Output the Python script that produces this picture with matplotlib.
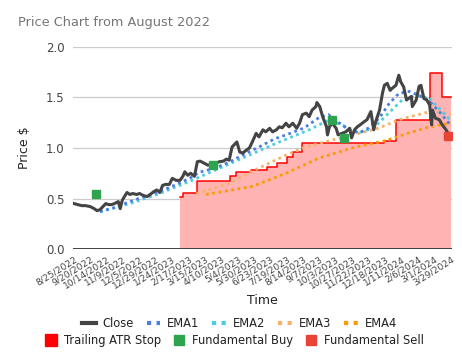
import matplotlib
matplotlib.use("Agg")
import matplotlib.pyplot as plt
from matplotlib.lines import Line2D
import numpy as np

# ---- data (x = trading-day index from 8/25/2022) ----
tick_labels = ["8/25/2022", "9/20/2022", "10/14/2022", "11/9/2022", "12/5/2022",
               "12/29/2022", "1/24/2023", "2/17/2023", "3/15/2023", "4/10/2023",
               "5/4/2023", "5/30/2023", "6/23/2023", "7/19/2023", "8/14/2023",
               "9/7/2023", "10/3/2023", "10/27/2023", "11/22/2023", "12/18/2023",
               "1/11/2024", "2/6/2024", "3/1/2024", "3/29/2024"]
tick_step = 17

close_day = [0, 4, 8, 12, 17, 21, 24, 27, 30, 33, 36, 39, 42, 46, 48, 50, 53, 55, 58, 61,
             65, 68, 72, 76, 79, 83, 86, 89, 92, 95, 99, 102, 106, 110, 113, 115, 118, 121, 125, 128,
             131, 134, 139, 143, 147, 151, 155, 158, 161, 164, 169, 172, 175, 179, 182, 185, 189, 192, 196, 199,
             203, 206, 210, 213, 216, 220, 223, 227, 231, 234, 237, 241, 244, 247, 251, 252, 255, 258, 262, 263,
             265, 268, 272, 274, 278, 282, 286, 288, 291, 294, 297, 301, 304, 308, 311, 313, 317, 320, 322, 325,
             328, 330, 334, 337, 339, 342, 345, 350, 351, 355, 358, 360, 363, 366, 369, 371, 372, 375, 379, 382,
             386, 389, 391]
close_val = [0.45, 0.44, 0.43, 0.43, 0.42, 0.40, 0.38, 0.39, 0.42, 0.45, 0.44, 0.44, 0.45, 0.47, 0.40, 0.48, 0.53, 0.56, 0.54, 0.55,
             0.54, 0.55, 0.53, 0.52, 0.54, 0.57, 0.585, 0.56, 0.63, 0.64, 0.64, 0.70, 0.68, 0.68, 0.72, 0.765, 0.73, 0.75, 0.72, 0.865,
             0.87, 0.855, 0.83, 0.84, 0.85, 0.865, 0.87, 0.89, 0.88, 1.01, 1.06, 0.96, 0.95, 0.98, 1.00, 1.06, 1.145, 1.11, 1.18, 1.16,
             1.195, 1.16, 1.18, 1.21, 1.20, 1.245, 1.21, 1.245, 1.195, 1.245, 1.33, 1.345, 1.31, 1.375, 1.41, 1.45, 1.41, 1.31, 1.21, 1.13,
             1.21, 1.245, 1.195, 1.13, 1.145, 1.16, 1.195, 1.10, 1.18, 1.21, 1.23, 1.26, 1.28, 1.36, 1.18, 1.26, 1.375, 1.54, 1.62, 1.64,
             1.57, 1.59, 1.62, 1.72, 1.655, 1.605, 1.475, 1.51, 1.41, 1.475, 1.61, 1.62, 1.49, 1.475, 1.425, 1.23, 1.375, 1.295, 1.28, 1.23,
             1.18, 1.13, 1.12]

ema1_day = [27, 42, 58, 73, 89, 104, 120, 130, 146, 161, 177, 192, 208, 223, 239, 254, 264, 275, 285, 296, 306, 317, 327, 337, 348, 358, 368, 379, 391]
ema1_val = [0.37, 0.41, 0.47, 0.52, 0.57, 0.63, 0.70, 0.76, 0.80, 0.86, 0.94, 1.01, 1.09, 1.14, 1.20, 1.30, 1.33, 1.25, 1.18, 1.15, 1.20, 1.30, 1.44, 1.54, 1.56, 1.52, 1.47, 1.36, 1.22]

ema2_day = [27, 58, 89, 120, 151, 182, 213, 244, 265, 280, 296, 311, 327, 342, 358, 369, 379, 391]
ema2_val = [0.37, 0.45, 0.55, 0.67, 0.80, 0.93, 1.06, 1.18, 1.28, 1.22, 1.15, 1.20, 1.35, 1.49, 1.52, 1.49, 1.39, 1.27]

ema3_day = [127, 161, 185, 198, 220, 240, 268, 286, 317, 337, 369, 391]
ema3_val = [0.55, 0.65, 0.77, 0.83, 0.93, 1.01, 1.08, 1.12, 1.20, 1.28, 1.36, 1.34]

ema4_day = [137, 161, 185, 220, 254, 292, 322, 348, 369, 391]
ema4_val = [0.54, 0.58, 0.62, 0.75, 0.90, 1.01, 1.07, 1.15, 1.21, 1.245]

atr_day = [110, 113, 128, 162, 168, 184, 200, 211, 221, 227, 237, 322, 334, 369, 382, 391]
atr_val = [0.52, 0.55, 0.675, 0.725, 0.76, 0.78, 0.815, 0.855, 0.915, 0.965, 1.045, 1.07, 1.28, 1.745, 1.50, 1.50]

buy_day = [23, 144, 268, 280]
buy_val = [0.545, 0.83, 1.28, 1.095]
sell_day = [388]
sell_val = [1.12]

# ---- style ----
c_close = "#444444"
c_ema1 = "#4a7ee0"
c_ema2 = "#4dcbe0"
c_ema3 = "#f6b26b"
c_ema4 = "#ff9900"
c_atr = "#ff0000"
c_buy = "#2ea44f"
c_sell = "#ea4335"
dot = (0, (1, 1.3))

fig = plt.figure(figsize=(4.62, 3.61), dpi=100)
ax = fig.add_axes([0.158, 0.310, 0.820, 0.560])

ax.fill_between(atr_day, 0, atr_val, step="post", color="#ffb3b3", lw=0, zorder=1)
ax.plot(atr_day, atr_val, drawstyle="steps-post", color=c_atr, lw=1.1, zorder=2)

ax.plot(ema4_day, ema4_val, color=c_ema4, lw=2, ls=dot, zorder=3)
ax.plot(ema3_day, ema3_val, color=c_ema3, lw=2, ls=dot, zorder=3)
ax.plot(ema2_day, ema2_val, color=c_ema2, lw=2, ls=dot, zorder=3)
ax.plot(ema1_day, ema1_val, color=c_ema1, lw=2, ls=dot, zorder=3)
ax.plot(close_day, close_val, color=c_close, lw=2.2, zorder=4)

ax.plot(buy_day, buy_val, ls="none", marker="s", ms=6, color=c_buy, zorder=5)
ax.plot(sell_day, sell_val, ls="none", marker="s", ms=6, color=c_sell, zorder=5)

ax.set_xlim(-1, 392)
ax.set_ylim(0, 2.0)
ax.set_yticks([0, 0.5, 1.0, 1.5, 2.0])
ax.set_yticklabels(["0.0", "0.5", "1.0", "1.5", "2.0"])
ax.set_xticks([i * tick_step for i in range(len(tick_labels))])
ax.set_xticklabels(tick_labels, rotation=32, ha="right", rotation_mode="anchor",
                   fontsize=6.6, color="#444444")
ax.tick_params(axis="x", length=0, pad=4)
ax.tick_params(axis="y", length=0, pad=6, labelsize=8.5, labelcolor="#444444")
for y in [0.5, 1.0, 1.5, 2.0]:
    ax.axhline(y, color="#cccccc", lw=0.9, zorder=0)
ax.axhline(0, color="#333333", lw=1.3, zorder=6)
for s in ax.spines.values():
    s.set_visible(False)

ax.set_ylabel("Price $", fontsize=9, color="#222222", labelpad=11)
fig.text(0.567, 0.168, "Time", fontsize=9, color="#222222", ha="center", va="center")
fig.text(0.039, 0.938, "Price Chart from August 2022", fontsize=9.3, color="#757575",
         ha="left", va="center")

h1 = [Line2D([], [], color=c_close, lw=3),
      Line2D([], [], color=c_ema1, lw=3, ls=(0, (1, 1.3))),
      Line2D([], [], color=c_ema2, lw=3, ls=(0, (1, 1.3))),
      Line2D([], [], color=c_ema3, lw=3, ls=(0, (1, 1.3))),
      Line2D([], [], color=c_ema4, lw=3, ls=(0, (1, 1.3)))]
l1 = fig.legend(h1, ["Close", "EMA1", "EMA2", "EMA3", "EMA4"], loc="center",
                bbox_to_anchor=(0.518, 0.103), ncol=5, frameon=False, fontsize=8.3,
                handlelength=1.2, handletextpad=0.6, columnspacing=1.1, borderpad=0)
h2 = [Line2D([], [], ls="none", marker="s", ms=8, color=c_atr),
      Line2D([], [], ls="none", marker="s", ms=6.5, color=c_buy),
      Line2D([], [], ls="none", marker="s", ms=6.5, color=c_sell)]
l2 = fig.legend(h2, ["Trailing ATR Stop", "Fundamental Buy", "Fundamental Sell"], loc="center",
                bbox_to_anchor=(0.508, 0.058), ncol=3, frameon=False, fontsize=8.3,
                handlelength=1.0, handletextpad=0.6, columnspacing=1.1, borderpad=0)
for t in list(l1.get_texts()) + list(l2.get_texts()):
    t.set_color("#222222")

fig.savefig("out.png", dpi=100)
